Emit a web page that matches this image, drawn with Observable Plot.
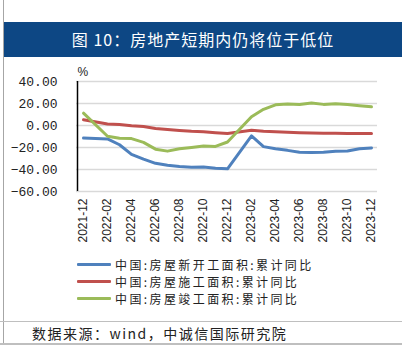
<!DOCTYPE html>
<html>
<head>
<meta charset="utf-8">
<script src="https://cdn.jsdelivr.net/npm/d3@7"></script>
<script src="https://cdn.jsdelivr.net/npm/@observablehq/plot@0.6"></script>
<style>
  html, body { margin: 0; padding: 0; background: #fff; }
  body { width: 412px; height: 346px; position: relative; overflow: hidden; font-family: "Noto Sans CJK SC", sans-serif; }
  #vline { position: absolute; left: 3px; top: 0; width: 1px; height: 343px; background: #a6a6a6; }
  #title { position: absolute; left: 4px; top: 22px; width: 398px; height: 35px; background: #0d4784;
           color: #fff; font-size: 16px; letter-spacing: 1px; line-height: 35px; text-align: center; }
  #chart { position: absolute; left: 0; top: 60px; }
  #legend { position: absolute; left: 77px; top: 256px; font-size: 12px; letter-spacing: 2.4px; color: #222; }
  .item { display: flex; align-items: center; height: 17px; line-height: 17px; }
  .item span { line-height: 17px; display: block; }
  .sw { width: 34px; height: 3px; margin-right: 4px; border-radius: 1px; }
  #rule1 { position: absolute; left: 0; top: 321px; width: 402px; height: 1px; background: #bfbfbf; }
  #rule2 { position: absolute; left: 0; top: 343px; width: 402px; height: 2px; background: #bfbfbf; }
  #source { position: absolute; left: 32px; top: 323px; font-size: 14px; letter-spacing: 1.5px; line-height: 20px; color: #222; }
</style>
</head>
<body>
<div id="vline"></div>
<div id="title">图 10：房地产短期内仍将位于低位</div>
<div id="chart"></div>
<div id="legend"></div>
<div id="rule1"></div>
<div id="source">数据来源：wind，中诚信国际研究院</div>
<div id="rule2"></div>
<script>
const months = ["2021-12","2022-01","2022-02","2022-03","2022-04","2022-05","2022-06","2022-07","2022-08","2022-09","2022-10","2022-11","2022-12",
                "2023-01","2023-02","2023-03","2023-04","2023-05","2023-06","2023-07","2023-08","2023-09","2023-10","2023-11","2023-12"];
const newStarts    = [-11.4, null, -12.2, -17.5, -26.3, -30.6, -34.4, -36.1, -37.2, -38.0, -37.8, -38.9, -39.4,
                      null, -9.4, -19.2, -21.2, -22.6, -24.3, -24.5, -24.4, -23.4, -23.2, -21.2, -20.4];
const underConstr  = [5.2, null, 1.4, 1.0, -0.3, -1.0, -2.8, -3.7, -4.5, -5.3, -5.7, -6.5, -7.2,
                      null, -4.4, -5.2, -5.6, -6.2, -6.6, -6.8, -7.1, -7.1, -7.3, -7.2, -7.2];
const completed    = [11.2, null, -9.8, -11.5, -11.9, -15.3, -21.5, -23.3, -21.1, -19.9, -18.7, -19.0, -15.0,
                      null, 8.0, 14.7, 18.8, 19.6, 19.0, 20.5, 19.2, 19.8, 19.0, 17.9, 17.0];
const seriesNames  = ["中国:房屋新开工面积:累计同比", "中国:房屋施工面积:累计同比", "中国:房屋竣工面积:累计同比"];
const seriesColors = ["#4f81bd", "#c0504d", "#9bbb59"];
const yTicks = [40, 20, 0, -20, -40, -60];
const xTickLabels = ["2021-12","2022-02","2022-04","2022-06","2022-08","2022-10","2022-12","2023-02","2023-04","2023-06","2023-08","2023-10","2023-12"];

const allValues = [newStarts, underConstr, completed];
const rows = [];
allValues.forEach((vals, s) => vals.forEach((v, i) => {
  if (v != null) rows.push({month: months[i], value: v, series: seriesNames[s]});
}));

const fmt = d => (d < 0 ? "\u2212" : "") + Math.abs(d).toFixed(2);

const chart = Plot.plot({
  width: 412,
  height: 192,
  marginLeft: 76,
  marginRight: 35,
  marginTop: 21,
  marginBottom: 61,
  style: {background: "transparent", color: "#000"},
  x: {type: "point", domain: months, padding: 0.5, label: null},
  y: {domain: [-60, 40], label: null},
  color: {domain: seriesNames, range: seriesColors},
  marks: [
    Plot.gridY(yTicks, {stroke: "#d9d9d9", strokeOpacity: 1, strokeWidth: 1.5}),
    Plot.axisY(yTicks, {tickSize: 0, tickPadding: 19, tickFormat: fmt, fontSize: 13,
      fontFamily: "'Liberation Mono', monospace", letterSpacing: -1.1, fill: "#222", label: null}),
    Plot.axisX(xTickLabels, {tickSize: 0, tickPadding: 7, tickRotate: -90, fontSize: 12,
      fontFamily: "'Liberation Sans', Arial, sans-serif", fill: "#222", label: null}),
    Plot.ruleX([0], {x: () => months[0], y1: -60, y2: 40, dx: -6, stroke: "#000", strokeWidth: 1.5}),
    Plot.line(rows, {x: "month", y: "value", z: "series", stroke: "series", strokeWidth: 3, curve: "linear"}),
    Plot.text(["%"], {frameAnchor: "top-left", dx: 1, dy: -14, fontSize: 12, fill: "#222",
      fontFamily: "'Liberation Sans', sans-serif"})
  ]
});
document.getElementById("chart").appendChild(chart);

const legend = document.getElementById("legend");
seriesNames.forEach((n, i) => {
  const it = document.createElement("div");
  it.className = "item";
  it.innerHTML = `<div class="sw" style="background:${seriesColors[i]}"></div><span>${n}</span>`;
  legend.appendChild(it);
});
</script>
</body>
</html>
